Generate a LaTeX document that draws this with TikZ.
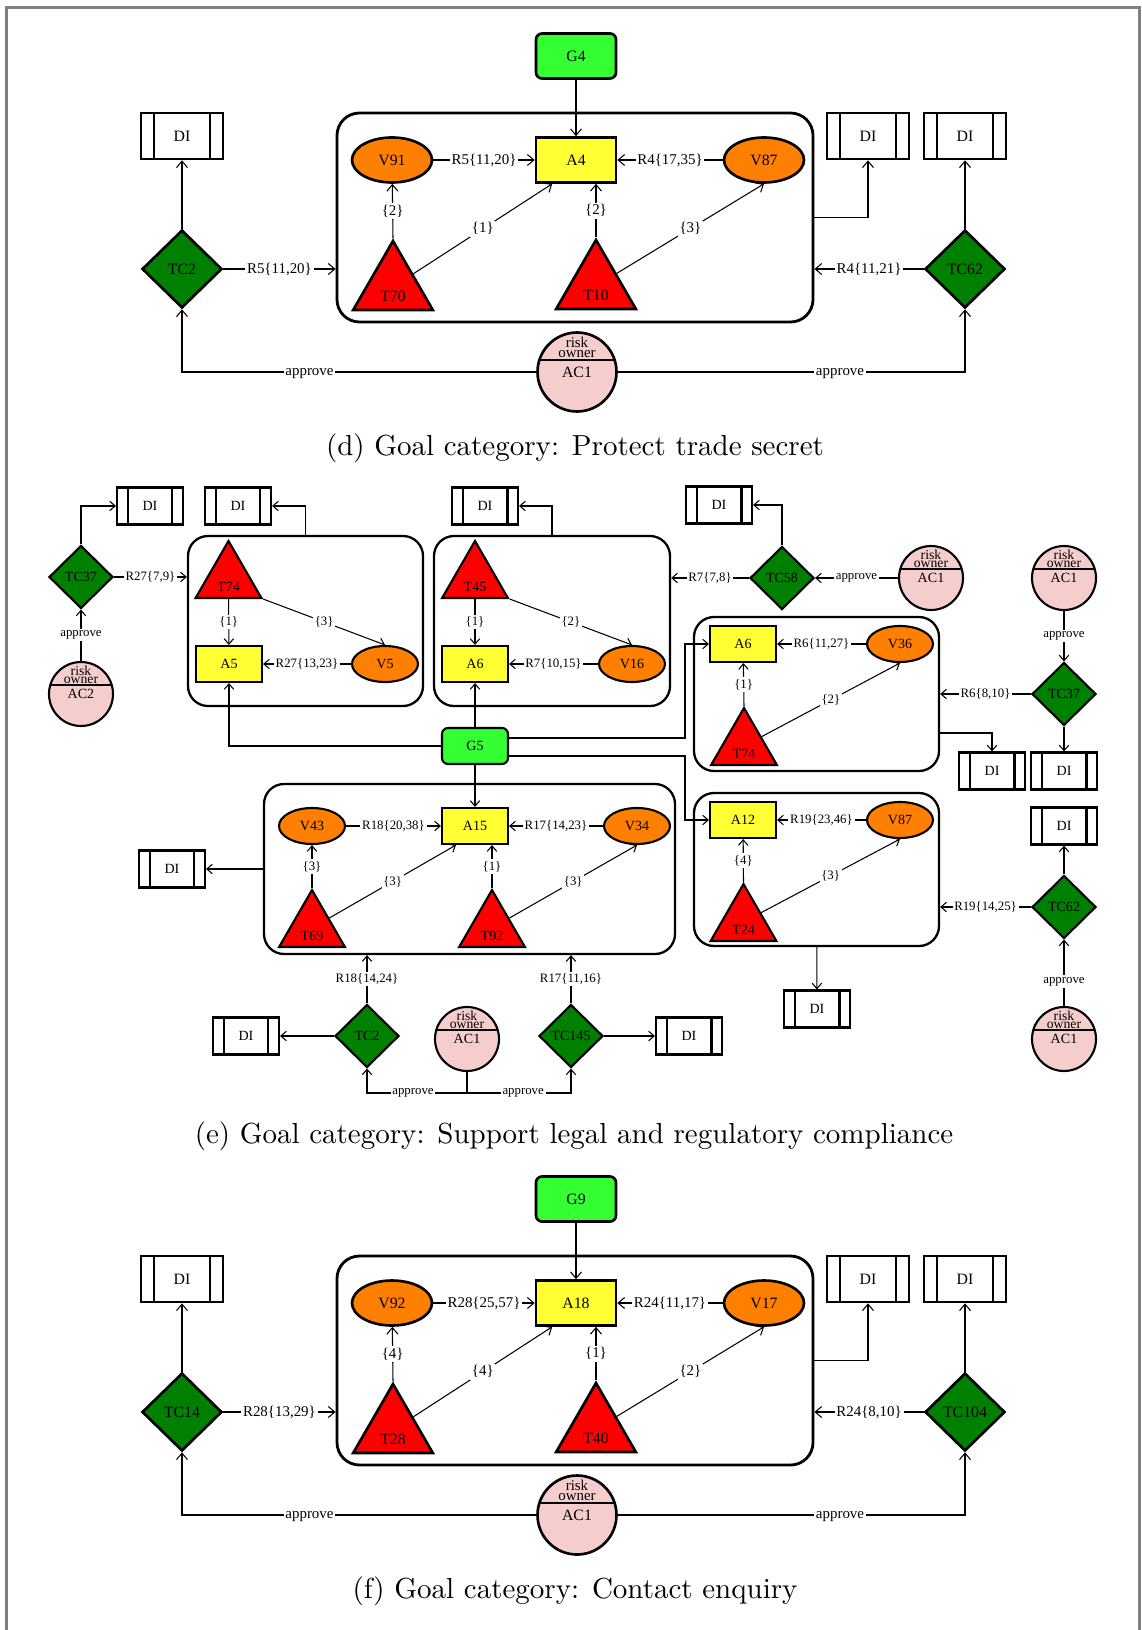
\documentclass[tikz,border=0pt]{standalone}
\usepackage{fontspec}
\usepackage{tikz}
\usetikzlibrary{positioning, arrows.meta, shapes, calc}
\usepackage{xcolor}
\newfontfamily\nodefont{Liberation Serif}
\newfontfamily\capfont{lmroman10-regular.otf}
\definecolor{goalgreen}{RGB}{51,255,51}
\definecolor{ctrlgreen}{RGB}{0,128,0}
\definecolor{assetyellow}{RGB}{255,255,51}
\definecolor{vulnorange}{RGB}{255,128,0}
\definecolor{ownerpink}{RGB}{245,205,205}

\begin{document}
\begin{tikzpicture}[line width=0.6pt, >={Straight Barb[length=1.3mm,width=2.2mm]},
    nfont/.style={font=\nodefont\fontsize{9}{10.8}\selectfont},
    bord/.style={line width=1.5pt},
    goal/.style={nfont, draw, bord, fill=goalgreen, rounded corners=0.12cm, minimum width=1.6cm, minimum height=0.9cm},
    asset/.style={nfont, draw, bord, fill=assetyellow, minimum width=1.6cm, minimum height=0.9cm},
    vuln/.style={nfont, ellipse, draw, bord, fill=vulnorange, inner sep=0pt, minimum width=1.6cm, minimum height=0.9cm},
    tri/.style={regular polygon, regular polygon sides=3, draw, bord, fill=red, inner sep=0pt, minimum size=1.84cm},
    threat/.style={tri, label={[tlbl]center:#1}},
    tlbl/.style={nfont, yshift=-0.18cm},
    ctrl/.style={nfont, diamond, draw, bord, fill=ctrlgreen, inner sep=0pt, minimum width=1.6cm, minimum height=1.56cm},
    di/.style={nfont, draw, bord, inner sep=0pt, minimum width=1.64cm, minimum height=0.92cm,
      path picture={\draw[bord]
        ($(path picture bounding box.north west)!0.16!(path picture bounding box.north east)$) --
        ($(path picture bounding box.south west)!0.16!(path picture bounding box.south east)$)
        ($(path picture bounding box.north west)!0.84!(path picture bounding box.north east)$) --
        ($(path picture bounding box.south west)!0.84!(path picture bounding box.south east)$);}},
    owner/.style={nfont, circle, draw, bord, fill=ownerpink, inner sep=0pt, minimum size=1.58cm,
      path picture={\draw[bord] ([yshift=0.24cm]path picture bounding box.west) -- ([yshift=0.24cm]path picture bounding box.east);},
      label={[olbl]center:risk\\owner}},
    olbl/.style={font=\nodefont\fontsize{8.5}{5.7}\selectfont, align=center, inner sep=0pt, yshift=0.5cm},
    grp/.style={draw, line width=1.6pt, rounded corners=0.45cm},
    lbl/.style={fill=white, inner sep=1pt, font=\nodefont\fontsize{8.5}{10}\selectfont},
    caption/.style={font=\capfont\fontsize{16.5}{19}\selectfont}]

  \useasboundingbox (0,0) rectangle (22.82,-32.6);
  \draw[gray, line width=1.2pt] (0.13,-32.6) -- (0.13,-0.15) -- (22.79,-0.15) -- (22.79,-32.6);

  %--- (d) PROTECT TRADE SECRET ---
  \begin{scope}
    \node[grp, minimum width=9.52cm, minimum height=4.18cm] (ga4) at (11.5,-4.35) {};
    \node[goal] (g4) at (11.52,-1.12) {G4};
    \node[asset] (a4) at (11.52,-3.2) {A4};
    \node[vuln] (v91) at (7.84,-3.2) {V91};
    \node[vuln] (v87) at (15.28,-3.2) {V87};
    \node[threat=T70] (t70) at (7.86,-5.74) {};
    \node[threat=T10] (t10) at (11.92,-5.72) {};
    \node[ctrl] (tc2) at (3.64,-5.38) {TC2};
    \node[ctrl] (tc62) at (19.3,-5.38) {TC62};
    \node[di] (di2) at (3.64,-2.72) {DI};
    \node[di] (di4) at (17.36,-2.72) {DI};
    \node[di] (di62) at (19.3,-2.72) {DI};
    \node[owner] (ac1) at (11.54,-7.44) {AC1};

    \draw[->] (g4) -- (a4);
    \draw[->] (v91) -- node[lbl] {R5\{11,20\}} (a4);
    \draw[->] (v87) -- node[lbl] {R4\{17,35\}} (a4);
    \draw[->] (t70.north) -- node[lbl] {\{2\}} (v91);
    \draw[->] (t70) -- node[lbl] {\{1\}} (a4.-135);
    \draw[->] (t10.north) -- node[lbl] {\{2\}} (t10.north |- a4.south);
    \draw[->] (t10) -- node[lbl] {\{3\}} (v87.south);
    \draw[->] (tc2) -- node[lbl] {R5\{11,20\}} (tc2 -| ga4.west);
    \draw[->] (tc62) -- node[lbl] {R4\{11,21\}} (tc62 -| ga4.east);
    \draw[->] (tc2) -- (di2);
    \draw[->] (tc62) -- (di62);
    \draw[->] (ga4) -| (di4);
    \draw[->] (ac1) -| node[lbl, pos=0.32, yshift=-1pt] {approve} (tc2);
    \draw[->] (ac1) -| node[lbl, pos=0.32, yshift=-1pt] {approve} (tc62);

    \node[caption] (capd) at (11.5,-8.96) {(d) Goal category: Protect trade secret};
  \end{scope}

  %--- (e) LEGAL AND REGULATORY COMPLIANCE ---
  \begin{scope}[>={Straight Barb[length=1.1mm,width=1.9mm]},
      nfont/.style={font=\nodefont\fontsize{8}{9.6}\selectfont},
      lbl/.append style={font=\nodefont\fontsize{7.3}{8.8}\selectfont},
      bord/.style={line width=1.2pt},
      goal/.append style={minimum width=1.32cm, minimum height=0.72cm},
      asset/.append style={minimum width=1.32cm, minimum height=0.72cm},
      vuln/.append style={minimum width=1.32cm, minimum height=0.72cm},
      tri/.append style={minimum size=1.52cm},
      tlbl/.style={nfont, yshift=-0.16cm},
      ctrl/.append style={minimum width=1.28cm, minimum height=1.26cm},
      di/.append style={minimum width=1.32cm, minimum height=0.74cm},
      owner/.append style={minimum size=1.28cm,
        path picture={\draw[bord] ([yshift=0.18cm]path picture bounding box.west) -- ([yshift=0.18cm]path picture bounding box.east);}},
      olbl/.style={font=\nodefont\fontsize{7.8}{4.6}\selectfont, align=center, inner sep=0pt, yshift=0.38cm},
      grp/.append style={line width=1.3pt, rounded corners=0.4cm}]
    \node[grp, minimum width=4.7cm, minimum height=3.4cm] (ga5) at (6.11,-12.42) {};
    \node[grp, minimum width=4.72cm, minimum height=3.4cm] (ga6) at (11.04,-12.42) {};
    \node[grp, minimum width=4.9cm, minimum height=3.08cm] (ga6b) at (16.33,-13.88) {};
    \node[grp, minimum width=8.22cm, minimum height=3.4cm] (ga15) at (9.39,-17.38) {};
    \node[grp, minimum width=4.9cm, minimum height=3.06cm] (ga12) at (16.33,-17.39) {};

    \node[goal] (g5) at (9.5,-14.92) {G5};
    \node[asset] (a5) at (4.58,-13.28) {A5};
    \node[asset] (a6) at (9.5,-13.28) {A6};
    \node[asset] (a6b) at (14.86,-12.88) {A6};
    \node[asset] (a15) at (9.5,-16.52) {A15};
    \node[asset] (a12) at (14.86,-16.4) {A12};
    \node[vuln] (v5) at (7.7,-13.28) {V5};
    \node[vuln] (v16) at (12.64,-13.28) {V16};
    \node[vuln] (v36) at (18.0,-12.88) {V36};
    \node[vuln] (v43) at (6.24,-16.52) {V43};
    \node[vuln] (v34) at (12.74,-16.52) {V34};
    \node[vuln] (v87b) at (18.0,-16.4) {V87};
    \node[threat=T74] (t74) at (4.57,-11.58) {};
    \node[threat=T45] (t45) at (9.5,-11.58) {};
    \node[threat=T74] (t74b) at (14.88,-14.92) {};
    \node[threat=T69] (t69) at (6.24,-18.56) {};
    \node[threat=T92] (t92) at (9.84,-18.56) {};
    \node[threat=T24] (t24) at (14.87,-18.44) {};
    \node[ctrl] (tc37) at (1.62,-11.54) {TC37};
    \node[ctrl] (tc58) at (15.64,-11.56) {TC58};
    \node[ctrl] (tc37b) at (21.28,-13.88) {TC37};
    \node[ctrl] (tc62b) at (21.28,-18.14) {TC62};
    \node[ctrl] (tc2b) at (7.34,-20.72) {TC2};
    \node[ctrl] (tc145) at (11.42,-20.72) {TC145};
    \node[owner] (ac2) at (1.62,-13.88) {AC2};
    \node[owner] (ac1b) at (18.62,-11.56) {AC1};
    \node[owner] (ac1c) at (21.28,-11.56) {AC1};
    \node[owner] (ac1d) at (9.34,-20.78) {AC1};
    \node[owner] (ac1e) at (21.28,-20.78) {AC1};
    \node[di] (di37) at (3.0,-10.12) {DI};
    \node[di] (di74) at (4.76,-10.12) {DI};
    \node[di] (di45) at (9.7,-10.12) {DI};
    \node[di] (di58) at (14.38,-10.1) {DI};
    \node[di] (di6) at (19.84,-15.42) {DI};
    \node[di] (di37b) at (21.28,-15.42) {DI};
    \node[di] (di62b) at (21.28,-16.52) {DI};
    \node[di] (di15) at (3.44,-17.38) {DI};
    \node[di] (di2b) at (4.92,-20.72) {DI};
    \node[di] (di145) at (13.78,-20.72) {DI};
    \node[di] (di12) at (16.34,-20.18) {DI};
    \coordinate (g5r) at (13.7,-14.92);
    \coordinate (apr) at (9.34,-21.86);

    % A5 group
    \draw[->] (t74) -- node[lbl] {\{1\}} (a5);
    \draw[->] (t74.corner 3) -- node[lbl] {\{3\}} (v5.north);
    \draw[->] (v5) -- node[lbl] {R27\{13,23\}} (a5);
    \draw[->] (tc37) -- node[lbl] {R27\{7,9\}} (tc37 -| ga5.west);
    \draw[->] (tc37) |- (di37);
    \draw[->] (ac2) -- node[lbl] {approve} (tc37);
    \draw[->] (ga5) |- (di74);
    % A6 group
    \draw[->] (t45) -- node[lbl] {\{1\}} (a6);
    \draw[->] (t45.corner 3) -- node[lbl] {\{2\}} (v16.north);
    \draw[->] (v16) -- node[lbl] {R7\{10,15\}} (a6);
    \draw[->] (tc58) -- node[lbl] {R7\{7,8\}} (tc58 -| ga6.east);
    \draw[->] (tc58) |- (di58);
    \draw[->] (ac1b) -- node[lbl] {approve} (tc58);
    \draw[->] (ga6) |- (di45);
    % second A6 group
    \draw[->] (t74b.north) -- node[lbl] {\{1\}} (a6b);
    \draw[->] (t74b) -- node[lbl] {\{2\}} (v36.south);
    \draw[->] (v36) -- node[lbl] {R6\{11,27\}} (a6b);
    \draw[->] (tc37b) -- node[lbl] {R6\{8,10\}} (tc37b -| ga6b.east);
    \draw[->] (tc37b) -- (di37b);
    \draw[->] (ac1c) -- node[lbl] {approve} (tc37b);
    \draw[->] ([yshift=-0.78cm]ga6b.east) -| (di6);
    % goal links
    \draw[->] (g5) -- (a6);
    \draw[->] (g5) -| (a5);
    \draw[->] (g5) -- (a15);
    \draw[->] ([yshift=0.16cm]g5.east) -- ([yshift=0.16cm]g5.east -| g5r) |- (a6b);
    \draw[->] ([yshift=-0.2cm]g5.east) -- ([yshift=-0.2cm]g5.east -| g5r) |- (a12);
    % A15 group
    \draw[->] (t69.north) -- node[lbl] {\{3\}} (v43);
    \draw[->] (t69) -- node[lbl] {\{3\}} (a15.-135);
    \draw[->] (t92.north) -- node[lbl] {\{1\}} (t92.north |- a15.south);
    \draw[->] (t92) -- node[lbl] {\{3\}} (v34.south);
    \draw[->] (v43) -- node[lbl] {R18\{20,38\}} (a15);
    \draw[->] (v34) -- node[lbl] {R17\{14,23\}} (a15);
    \draw[->] (ga15) -- (di15);
    \draw[->] (tc2b) -- node[lbl] {R18\{14,24\}} (tc2b |- ga15.south);
    \draw[->] (tc145) -- node[lbl] {R17\{11,16\}} (tc145 |- ga15.south);
    \draw[->] (tc2b) -- (di2b);
    \draw[->] (tc145) -- (di145);
    \draw[->] (ac1d) -- (apr) -| node[lbl, pos=0.27] {approve} (tc2b);
    \draw[->] (apr) -| node[lbl, pos=0.27] {approve} (tc145);
    % A12 group
    \draw[->] (t24.north) -- node[lbl] {\{4\}} (a12);
    \draw[->] (t24) -- node[lbl] {\{3\}} (v87b.south);
    \draw[->] (v87b) -- node[lbl] {R19\{23,46\}} (a12);
    \draw[->] (ga12) -- (di12);
    \draw[->] (tc62b) -- node[lbl] {R19\{14,25\}} (tc62b -| ga12.east);
    \draw[->] (tc62b) -- (di62b);
    \draw[->] (ac1e) -- node[lbl, pos=0.37] {approve} (tc62b);

    \node[caption] (cape) at (11.48,-22.72) {(e) Goal category: Support legal and regulatory compliance};
  \end{scope}

  %--- (f) CONTACT ENQUIRY ---
  \begin{scope}[yshift=-22.86cm]
    \node[grp, minimum width=9.52cm, minimum height=4.18cm] (ga18) at (11.5,-4.35) {};
    \node[goal] (g9) at (11.52,-1.12) {G9};
    \node[asset] (a18) at (11.52,-3.2) {A18};
    \node[vuln] (v92) at (7.84,-3.2) {V92};
    \node[vuln] (v17) at (15.28,-3.2) {V17};
    \node[threat=T28] (t28) at (7.86,-5.74) {};
    \node[threat=T40] (t40) at (11.92,-5.72) {};
    \node[ctrl] (tc14) at (3.64,-5.38) {TC14};
    \node[ctrl] (tc104) at (19.3,-5.38) {TC104};
    \node[di] (di14) at (3.64,-2.72) {DI};
    \node[di] (di18) at (17.36,-2.72) {DI};
    \node[di] (di104) at (19.3,-2.72) {DI};
    \node[owner] (ac1f) at (11.54,-7.44) {AC1};

    \draw[->] (g9) -- (a18);
    \draw[->] (v92) -- node[lbl] {R28\{25,57\}} (a18);
    \draw[->] (v17) -- node[lbl] {R24\{11,17\}} (a18);
    \draw[->] (t28.north) -- node[lbl] {\{4\}} (v92);
    \draw[->] (t28) -- node[lbl] {\{4\}} (a18.-135);
    \draw[->] (t40.north) -- node[lbl] {\{1\}} (t40.north |- a18.south);
    \draw[->] (t40) -- node[lbl] {\{2\}} (v17.south);
    \draw[->] (tc14) -- node[lbl] {R28\{13,29\}} (tc14 -| ga18.west);
    \draw[->] (tc104) -- node[lbl] {R24\{8,10\}} (tc104 -| ga18.east);
    \draw[->] (tc14) -- (di14);
    \draw[->] (tc104) -- (di104);
    \draw[->] (ga18) -| (di18);
    \draw[->] (ac1f) -| node[lbl, pos=0.32, yshift=-1pt] {approve} (tc14);
    \draw[->] (ac1f) -| node[lbl, pos=0.32, yshift=-1pt] {approve} (tc104);

    \node[caption] (capf) at (11.5,-8.96) {(f) Goal category: Contact enquiry};
  \end{scope}
\end{tikzpicture}
\end{document}
